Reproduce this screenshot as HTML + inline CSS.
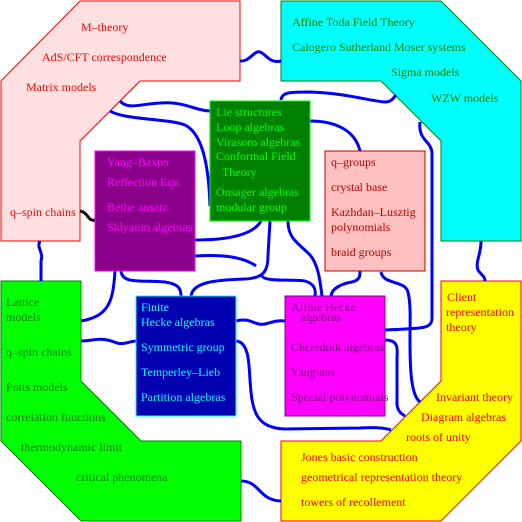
<!DOCTYPE html>
<html><head><meta charset="utf-8"><style>
html,body{margin:0;padding:0;background:#fff}
svg{display:block}
text{font-family:"Liberation Serif",serif;font-size:12px}
</style></head><body>
<svg width="522" height="522" viewBox="0 0 522 522" xmlns="http://www.w3.org/2000/svg">
<!-- outer shapes -->
<polygon points="80,1 240,1 240,81 140,81 80,141 80,241 1,241 1,81" fill="#ffe0e0" stroke="#ff0000" stroke-width="1"/>
<polygon points="281,1 441,1 521,81 521,241 441,241 441,141 381,81 281,81" fill="#00ffff" stroke="#008000" stroke-width="1"/>
<polygon points="1,281 81,281 81,381 141,441 241,441 241,521 81,521 1,441" fill="#00ff00" stroke="#008000" stroke-width="1"/>
<polygon points="441,281 521,281 521,441 441,521 281,521 281,441 381,441 441,381" fill="#ffff00" stroke="#ff0000" stroke-width="1"/>

<!-- connectors -->
<g fill="none" stroke="#0000ff" stroke-width="3">
<path d="M240,61 C250,62 254,50 260,52 C266,54 270,64 281,61"/>
<path d="M120,101 C128,110 140,104 160,103 C185,101 195,111 210,111"/>
<path d="M110,111 C125,120 165,118 185,125 C205,135 209,175 210,206"/>
<path d="M281,100 C282,92 290,92 310,92 C345,93 370,101 385,102 C392,102 394,97 396,95"/>
<path d="M310,121 C335,121 355,130 360,151"/>
<path d="M420,122 C418,140 430,140 432,152 L432,318 C432,330 420,328 385,330"/>
<path d="M381,272 C383,285 405,280 408,292 C411,305 410,320 410,340 C410,370 411,395 420,402"/>
<path d="M385,340 C400,340 397,350 397,360 L397,405 C398,412 402,414 405,416"/>
<path d="M481,241 C481,255 475,262 478,270 C481,275 485,276 485,281"/>
<path d="M40,241 C36,248 44,252 41,261 L41,281"/>
<path d="M115,271 C113,300 110,316 81,321"/>
<path d="M121,271 C122,284 140,280 165,282 C178,284 181,288 181,296"/>
<path d="M191,296 C193,282 215,280 245,279 C265,278 268,270 268,255 L270,221"/>
<path d="M195,240 C220,240 252,237 261,221"/>
<path d="M195,256 C225,254 245,258 256,266"/>
<path d="M262,276 C265,282 290,279 305,281 C315,284 316,290 315,296"/>
<path d="M288,221 C288,240 300,244 310,255 C318,264 320,280 322,296"/>
<path d="M331,296 C332,287 345,283 352,282 C360,280 360,276 360,271"/>
<path d="M81,341 C95,341 100,336 117,343 C125,345 130,341 136,341"/>
<path d="M236,321 C250,317 255,326 265,324 C272,322 278,320 285,321"/>
<path d="M236,341 C248,342 249,360 250,380 C252,410 255,428 285,429 L360,428 C375,427 385,428 391,430"/>
<path d="M241,481 C260,481 258,500 281,501"/>
</g>
<path d="M80,211 C88,212 88,222 95,220" fill="none" stroke="#000" stroke-width="3"/>

<!-- inner boxes -->
<rect x="210" y="101" width="100" height="120" fill="#008000" stroke="#00ff00"/>
<rect x="95" y="151" width="100" height="120" fill="#8b008b" stroke="#ff00ff"/>
<rect x="325" y="151" width="100" height="120" fill="#ffc0c0" stroke="#c00000"/>
<rect x="136" y="296" width="100" height="120" fill="#0000b0" stroke="#00ffff"/>
<rect x="285" y="296" width="100" height="120" fill="#ff00ff" stroke="#800080"/>

<!-- texts -->
<g fill="#ff0000">
<text x="81" y="31">M–theory</text>
<text x="42" y="61">AdS/CFT correspondence</text>
<text x="26" y="91">Matrix models</text>
<text x="10" y="216">q–spin chains</text>
</g>
<g fill="#008000">
<text x="292" y="26">Affine Toda Field Theory</text>
<text x="292" y="51">Calogero Sutherland Moser systems</text>
<text x="391" y="76">Sigma models</text>
<text x="431" y="102">WZW models</text>
</g>
<g fill="#00ff00">
<text x="216" y="116">Lie structures</text>
<text x="216" y="131">Loop algebras</text>
<text x="216" y="146">Virasoro algebras</text>
<text x="216" y="160">Conformal Field</text>
<text x="222" y="176">Theory</text>
<text x="216" y="196">Onsager algebras</text>
<text x="216" y="211">modular group</text>
</g>
<g fill="#ff00ff">
<text x="107" y="166">Yang–Baxter</text>
<text x="107" y="186">Reflection Eqn</text>
<text x="107" y="211">Bethe ansatz</text>
<text x="107" y="231">Sklyanin algebras</text>
</g>
<g fill="#c00000">
<text x="331" y="166">q–groups</text>
<text x="331" y="191">crystal base</text>
<text x="331" y="216">Kazhdan–Lusztig</text>
<text x="331" y="231">polynomials</text>
<text x="331" y="256">braid groups</text>
</g>
<g fill="#008000">
<text x="6" y="306">Lattice</text>
<text x="6" y="321">models</text>
<text x="6" y="356">q–spin chains</text>
<text x="6" y="391">Potts models</text>
<text x="6" y="421">correlation functions</text>
<text x="21" y="451">thermodynamic limit</text>
<text x="76" y="481">critical phenomena</text>
</g>
<g fill="#00ffff">
<text x="141" y="311">Finite</text>
<text x="141" y="326">Hecke algebras</text>
<text x="141" y="351">Symmetric group</text>
<text x="141" y="376">Temperley–Lieb</text>
<text x="141" y="401">Partition algebras</text>
</g>
<g fill="#800080">
<text x="291" y="311">Affine Hecke</text>
<text x="301" y="321">algebras</text>
<text x="291" y="351">Cherednik algebras</text>
<text x="291" y="376">Yangians</text>
<text x="291" y="401">Special polynomials</text>
</g>
<g fill="#ff0000">
<text x="447" y="301">Client</text>
<text x="446" y="316">representation</text>
<text x="446" y="331">theory</text>
<text x="436" y="401">Invariant theory</text>
<text x="421" y="421">Diagram algebras</text>
<text x="406" y="441">roots of unity</text>
<text x="301" y="461">Jones basic construction</text>
<text x="301" y="481">geometrical representation theory</text>
<text x="301" y="506">towers of recollement</text>
</g>
</svg>
</body></html>
